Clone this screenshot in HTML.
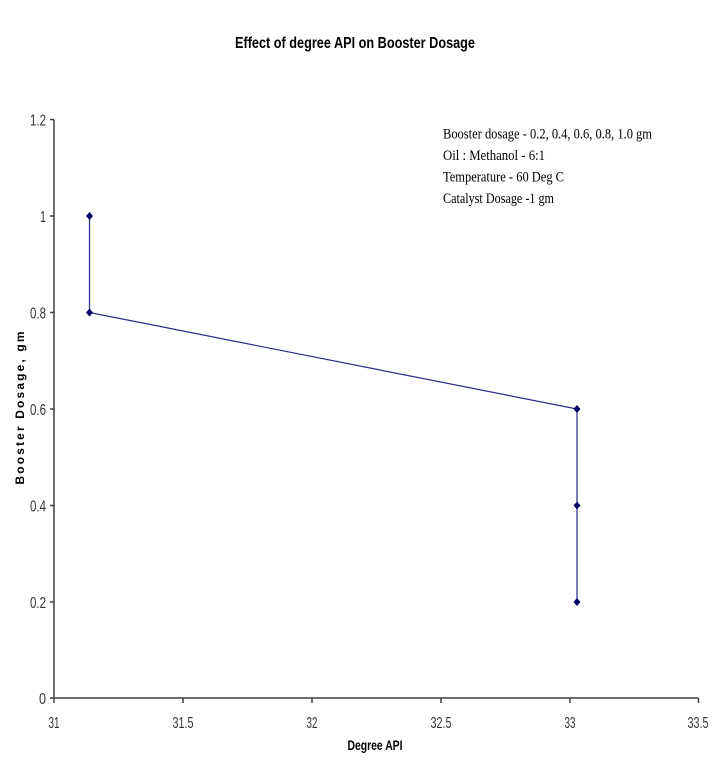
<!DOCTYPE html>
<html><head><meta charset="utf-8"><style>
html,body{margin:0;padding:0;background:#fff;}
svg{display:block;}
</style></head><body>
<svg width="718" height="769" viewBox="0 0 718 769" xmlns="http://www.w3.org/2000/svg">
<rect width="718" height="769" fill="#fff"/>
<text x="355" y="48" text-anchor="middle" font-family="Liberation Sans, sans-serif" font-weight="bold" font-size="16" textLength="240" lengthAdjust="spacingAndGlyphs" fill="#000">Effect of degree API on Booster Dosage</text>
<!-- axes -->
<g stroke="#404040" stroke-width="1.5" fill="none">
<line x1="54" y1="119.5" x2="54" y2="698"/>
<line x1="54" y1="698" x2="698.5" y2="698"/>
<line x1="50" y1="119.5" x2="54" y2="119.5"/>
<line x1="50" y1="216" x2="54" y2="216"/>
<line x1="50" y1="312.5" x2="54" y2="312.5"/>
<line x1="50" y1="409" x2="54" y2="409"/>
<line x1="50" y1="505.5" x2="54" y2="505.5"/>
<line x1="50" y1="602" x2="54" y2="602"/>
<line x1="50" y1="698" x2="54" y2="698"/>
<line x1="54" y1="698" x2="54" y2="703"/>
<line x1="183" y1="698" x2="183" y2="703"/>
<line x1="312" y1="698" x2="312" y2="703"/>
<line x1="441" y1="698" x2="441" y2="703"/>
<line x1="570" y1="698" x2="570" y2="703"/>
<line x1="698.5" y1="698" x2="698.5" y2="703"/>
</g>
<g font-family="Liberation Sans, sans-serif" font-size="16" fill="#333" text-anchor="end">
<text x="46" y="125.5" textLength="16" lengthAdjust="spacingAndGlyphs">1.2</text>
<text x="46" y="222" textLength="6" lengthAdjust="spacingAndGlyphs">1</text>
<text x="46" y="318.5" textLength="16" lengthAdjust="spacingAndGlyphs">0.8</text>
<text x="46" y="415" textLength="16" lengthAdjust="spacingAndGlyphs">0.6</text>
<text x="46" y="511.5" textLength="16" lengthAdjust="spacingAndGlyphs">0.4</text>
<text x="46" y="608" textLength="16" lengthAdjust="spacingAndGlyphs">0.2</text>
<text x="46" y="704" textLength="7" lengthAdjust="spacingAndGlyphs">0</text>
</g>
<g font-family="Liberation Sans, sans-serif" font-size="16" fill="#333" text-anchor="middle">
<text x="54" y="728" textLength="11" lengthAdjust="spacingAndGlyphs">31</text>
<text x="183" y="728" textLength="21" lengthAdjust="spacingAndGlyphs">31.5</text>
<text x="312" y="728" textLength="11" lengthAdjust="spacingAndGlyphs">32</text>
<text x="441" y="728" textLength="21" lengthAdjust="spacingAndGlyphs">32.5</text>
<text x="570" y="728" textLength="11" lengthAdjust="spacingAndGlyphs">33</text>
<text x="698" y="728" textLength="21" lengthAdjust="spacingAndGlyphs">33.5</text>
</g>
<text x="375" y="750" text-anchor="middle" font-family="Liberation Sans, sans-serif" font-weight="bold" font-size="14" textLength="55" lengthAdjust="spacingAndGlyphs" fill="#000">Degree API</text>
<text transform="translate(24,408) rotate(-90)" x="0" y="0" text-anchor="middle" font-family="Liberation Sans, sans-serif" font-weight="bold" font-size="12" textLength="153" lengthAdjust="spacing" fill="#000">Booster Dosage, gm</text>
<!-- annotation -->
<g font-family="Liberation Serif, serif" font-size="15" fill="#000">
<text x="443" y="138.5" textLength="209" lengthAdjust="spacingAndGlyphs">Booster dosage - 0.2, 0.4, 0.6, 0.8, 1.0 gm</text>
<text x="443" y="160" textLength="102" lengthAdjust="spacingAndGlyphs">Oil : Methanol - 6:1</text>
<text x="443" y="181.5" textLength="121" lengthAdjust="spacingAndGlyphs">Temperature - 60 Deg C</text>
<text x="443" y="203" textLength="111" lengthAdjust="spacingAndGlyphs">Catalyst Dosage -1 gm</text>
</g>
<!-- series -->
<polyline points="89.5,216 89.5,312.5 577,409 577,505.5 577,602" fill="none" stroke="#2a2a8c" stroke-width="1.2"/>
<g fill="#000066">
<path d="M89.5,212 L93,216 L89.5,220 L86,216 Z"/>
<path d="M89.5,308.5 L93,312.5 L89.5,316.5 L86,312.5 Z"/>
<path d="M577,405 L580.5,409 L577,413 L573.5,409 Z"/>
<path d="M577,501.5 L580.5,505.5 L577,509.5 L573.5,505.5 Z"/>
<path d="M577,598 L580.5,602 L577,606 L573.5,602 Z"/>
</g>
</svg>
</body></html>
